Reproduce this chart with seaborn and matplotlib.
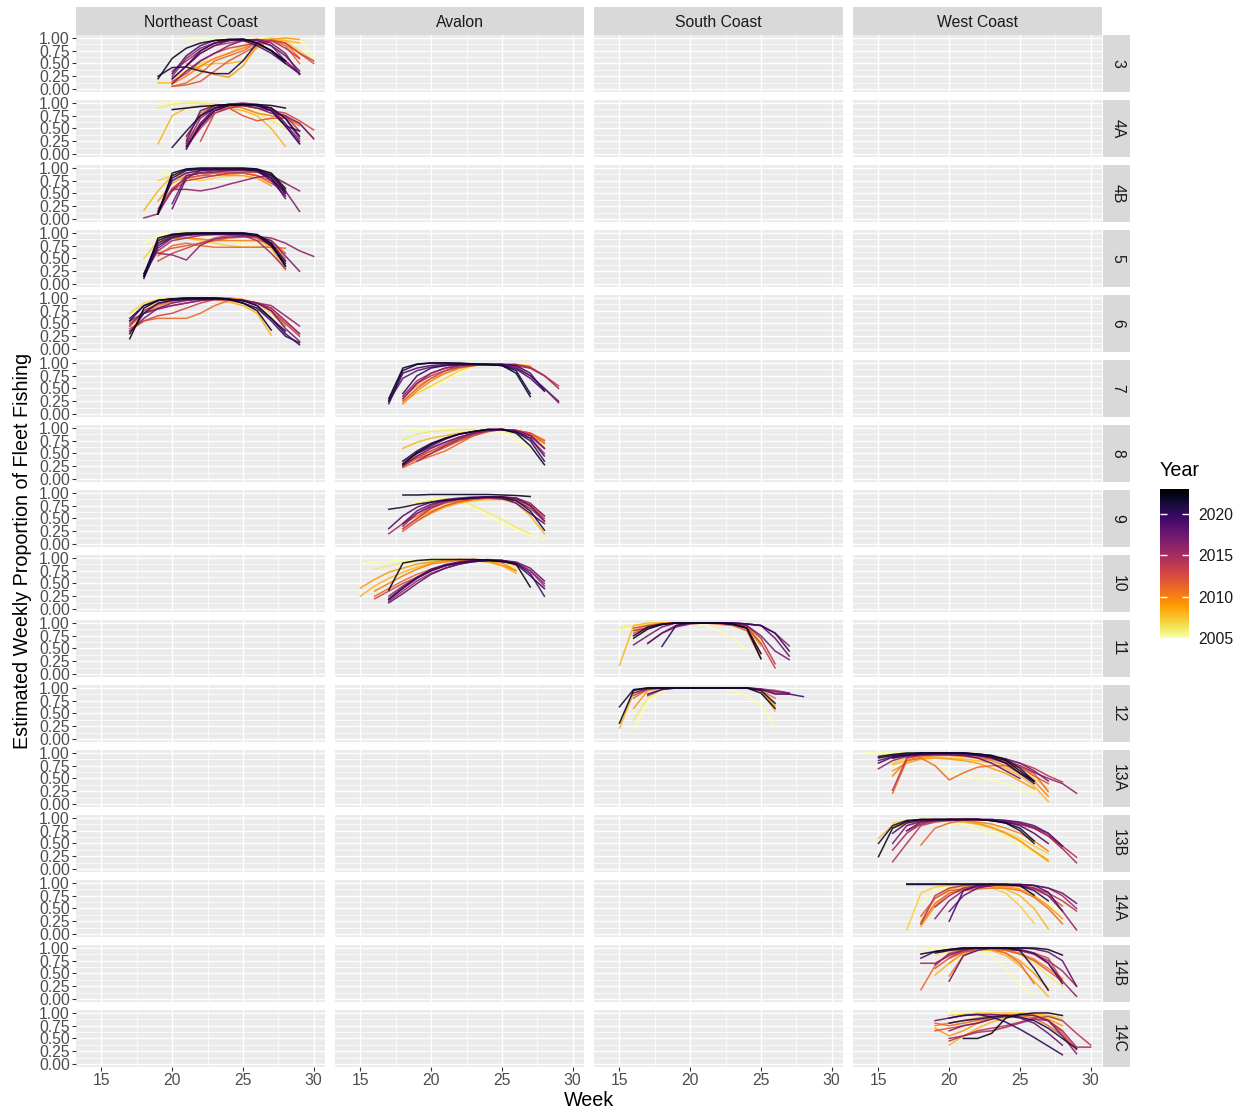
import matplotlib
matplotlib.use("Agg")
import matplotlib.pyplot as plt
import numpy as np
import pandas as pd
import seaborn as sns
from matplotlib.colors import Normalize
from matplotlib.cm import ScalarMappable

# ---- data: weekly proportion of fleet fishing, by area and year ----
# each entry: year -> (first week, proportions for consecutive weeks)
regions = ["Northeast Coast", "Avalon", "South Coast", "West Coast"]
areas = ["3", "4A", "4B", "5", "6", "7", "8", "9", "10", "11", "12",
         "13A", "13B", "14A", "14B", "14C"]
area_region = {"3": 0, "4A": 0, "4B": 0, "5": 0, "6": 0,
               "7": 1, "8": 1, "9": 1, "10": 1,
               "11": 2, "12": 2,
               "13A": 3, "13B": 3, "14A": 3, "14B": 3, "14C": 3}

area_3 = {
    2005: (21, [1, 1, 1, 1, 1, 1, 1, 1, .97, .63]),
    2007: (20, [.2, .35, .5, .6, .7, .85, .95, 1, .95, .75, .55]),
    2008: (19, [.12, .12, .35, .45, .5, .5, .55, .8, .95, .95, .9]),
    2009: (21, [.5, .38, .28, .23, .45, .85, .97, 1, .97]),
    2010: (20, [.1, .25, .45, .6, .7, .8, .9, .97, .9, .6]),
    2011: (20, [.05, .12, .3, .55, .65, .75, .9, .95, .85, .5]),
    2012: (20, [.05, .08, .15, .35, .55, .7, .85, .95, .9, .7, .5]),
    2013: (20, [.15, .3, .55, .7, .8, .85, .9, .95, .9, .7, .55]),
    2014: (20, [.2, .45, .7, .85, .9, .95, .97, .95, .8, .6]),
    2015: (20, [.35, .55, .75, .9, .95, .97, .95, .85, .55, .3]),
    2016: (20, [.25, .6, .8, .9, .95, .97, .9, .75, .55, .3]),
    2017: (20, [.1, .35, .55, .7, .85, .95, .97, .9, .7, .28]),
    2018: (21, [.45, .7, .85, .95, .97, .95, .85, .65, .35]),
    2019: (20, [.3, .65, .85, .95, .97, .95, .85, .7, .5, .3]),
    2020: (20, [.2, .45, .75, .9, .97, .98, .9, .75, .55]),
    2021: (19, [.25, .42, .43, .35, .3, .3, .55, .9, .75, .5]),
    2022: (19, [.2, .6, .8, .9, .95, .97, .97, .9, .75, .55]),
}
area_4A = {
    2005: (19, [.98, 1, 1, 1, .98, .95, .9, .85, .75, .55]),
    2006: (19, [.9, .97, 1, 1, .98, .95, .9, .8, .65, .5]),
    2008: (19, [.2, .75, .9, .95, .95, .9, .85, .75, .5, .15]),
    2010: (21, [.3, .8, .95, .95, .9, .8, .75, .7, .55]),
    2012: (21, [.2, .6, .85, .9, .75, .65, .7, .7, .6, .3]),
    2013: (22, [.25, .8, .9, .95, .9, .85, .8, .65, .47]),
    2014: (21, [.15, .5, .8, .9, .95, .9, .85, .75, .45]),
    2015: (21, [.1, .55, .85, .95, .97, .95, .85, .55, .2]),
    2016: (21, [.2, .7, .9, .97, 1, .97, .9, .7, .3]),
    2017: (21, [.35, .75, .95, .97, .95, .9, .8, .75, .6, .3]),
    2018: (21, [.25, .85, .95, .97, .97, .95, .9, .6, .25]),
    2019: (21, [.1, .6, .9, .97, .97, .95, .85, .55, .2]),
    2020: (21, [.15, .55, .85, .95, .97, .95, .85, .55, .45]),
    2021: (20, [.13, .45, .75, .9, .95, .97, .95, .9, .7, .35]),
    2022: (20, [.87, .9, .93, .95, .97, .97, .97, .95, .9]),
}
area_4B = {
    2005: (19, [.93, .9, .85, .9, .95, .97, .97, .95, .85, .7]),
    2007: (19, [.75, .85, .8, .75, .8, .85, .9, .92, .85]),
    2008: (18, [.17, .55, .85, .9, .92, .95, .95, .9, .85, .75, .6]),
    2009: (19, [.35, .7, .85, .9, .9, .85, .85, .8, .65]),
    2011: (20, [.6, .8, .85, .85, .88, .9, .85, .75, .55]),
    2012: (19, [.2, .6, .8, .85, .9, .92, .9, .85, .7, .55]),
    2014: (20, [.55, .75, .8, .85, .9, .92, .92, .85, .7]),
    2015: (19, [.15, .55, .85, .9, .95, .95, .95, .92, .8, .5]),
    2016: (18, [.02, .1, .58, .58, .55, .6, .68, .75, .82, .85, .7, .55]),
    2017: (20, [.3, .85, .9, .92, .95, .97, .95, .88, .55, .15]),
    2018: (20, [.2, .8, .95, .97, .97, .97, .95, .8, .4]),
    2019: (19, [.15, .75, .9, .95, .97, .97, .97, .95, .75, .45]),
    2020: (19, [.1, .8, .95, .97, .97, .97, .97, .95, .8, .5]),
    2021: (19, [.1, .85, .97, .98, .98, .98, .98, .97, .85, .55]),
    2022: (19, [.1, .9, .98, 1, 1, 1, 1, .98, .9, .6]),
}
area_5 = {
    2005: (18, [.8, .95, .97, .97, .95, .9, .85, .8, .78, .7]),
    2007: (18, [.5, .85, .9, .9, .85, .8, .75, .72, .72, .75]),
    2008: (18, [.11, .9, .98, 1, 1, 1, 1, .98, .9, .7, .27]),
    2010: (19, [.8, .9, .9, .88, .85, .85, .85, .85, .8, .5]),
    2011: (19, [.55, .75, .8, .75, .72, .72, .72, .72, .72, .7]),
    2012: (19, [.6, .7, .75, .8, .85, .9, .92, .92, .85, .6]),
    2013: (19, [.45, .6, .7, .8, .9, .95, .95, .9, .75, .45]),
    2015: (18, [.2, .65, .85, .9, .95, .97, .97, .95, .85, .6, .3]),
    2016: (19, [.6, .57, .47, .76, .88, .92, .93, .93, .9, .8, .65, .54]),
    2017: (18, [.15, .7, .9, .95, .97, .97, .97, .97, .95, .85, .55, .25]),
    2019: (18, [.15, .8, .95, .97, .98, .98, .98, .97, .95, .8, .45]),
    2020: (18, [.11, .75, .92, .97, .98, .98, .98, .98, .95, .75, .35]),
    2021: (18, [.2, .85, .97, .98, 1, 1, 1, 1, .95, .75, .4]),
    2022: (18, [.15, .9, .97, 1, 1, 1, 1, 1, .97, .8, .35]),
}
area_6 = {
    2005: (17, [.65, .8, .9, .97, 1, 1, 1, .98, .95, .9, .75]),
    2007: (17, [.7, .9, .97, 1, 1, 1, 1, 1, .97, .9, .7, .45]),
    2008: (17, [.3, .75, .9, .97, 1, 1, .97, .92, .85, .7, .27]),
    2010: (17, [.45, .7, .85, .92, .97, 1, 1, 1, .97, .9, .75, .45]),
    2011: (17, [.35, .55, .6, .6, .6, .7, .85, .95, .9, .8, .6, .3]),
    2013: (17, [.4, .55, .65, .7, .8, .9, .97, .97, .95, .9, .8, .55, .3]),
    2014: (17, [.5, .7, .8, .85, .9, .95, .97, .97, .95, .9, .75, .5, .25]),
    2015: (17, [.45, .75, .88, .95, .97, .98, .98, .97, .95, .9, .8, .55, .3]),
    2016: (17, [.55, .7, .78, .85, .9, .95, .97, .97, .95, .9, .85, .65, .45]),
    2017: (17, [.35, .6, .8, .9, .95, .97, .98, .97, .95, .9, .75, .4, .15]),
    2019: (17, [.6, .85, .95, .98, 1, 1, 1, .98, .95, .85, .6, .3, .08]),
    2020: (17, [.3, .7, .9, .95, .97, .98, .98, .97, .9, .8, .55, .25, .12]),
    2021: (17, [.55, .85, .95, .98, .98, .98, .98, .97, .95, .85, .6, .35]),
    2022: (17, [.2, .8, .95, .98, 1, 1, 1, .98, .9, .75, .37]),
}
area_7 = {
    2005: (18, [.3, .45, .52, .65, .8, .95, .97, .97, .97, .95]),
    2007: (18, [.25, .4, .55, .7, .85, .95, .97, .97, .97, .95]),
    2009: (18, [.35, .55, .7, .8, .9, .95, .97, .97, .97, .93]),
    2010: (18, [.2, .45, .65, .8, .9, .95, .97, .97, .97, .9]),
    2012: (18, [.25, .5, .7, .85, .95, .97, .97, .97, .95, .9, .75]),
    2014: (18, [.3, .6, .75, .85, .92, .95, .97, .97, .97, .92, .75, .55]),
    2015: (18, [.35, .65, .8, .9, .95, .97, .97, .97, .95, .9, .75, .5]),
    2016: (18, [.3, .6, .8, .9, .95, .97, .97, .97, .92, .75, .5, .22]),
    2018: (17, [.25, .7, .85, .92, .95, .97, .97, .97, .97, .9, .75, .5, .25]),
    2019: (17, [.2, .8, .9, .95, .97, .97, .97, .97, .95, .88, .7, .45]),
    2020: (18, [.4, .75, .9, .95, .97, .97, .97, .97, .95, .8, .45]),
    2021: (17, [.25, .85, .97, 1, 1, .98, .98, .97, .95, .85, .4]),
    2022: (17, [.3, .9, .98, 1, 1, 1, .98, .97, .95, .8, .34]),
}
area_8 = {
    2005: (18, [.93, .95, .97, .97, .97, .97, .95, .9, .75, .6, .65]),
    2006: (18, [.77, .88, .93, .95, .97, .97, .97, .95, .88, .8, .75]),
    2008: (18, [.6, .72, .8, .85, .9, .93, .95, .97, .95, .9, .77]),
    2009: (18, [.3, .45, .55, .65, .75, .85, .93, .97, .95, .85, .7]),
    2011: (18, [.22, .35, .45, .55, .7, .85, .93, .97, .95, .9, .7]),
    2012: (18, [.25, .4, .5, .62, .75, .85, .93, .97, .95, .9, .75]),
    2013: (18, [.3, .42, .55, .68, .8, .9, .95, .97, .95, .88, .6]),
    2015: (18, [.35, .5, .62, .72, .82, .9, .95, .97, .93, .8, .5]),
    2016: (19, [.35, .5, .65, .78, .88, .95, .97, .95, .85, .6]),
    2017: (18, [.25, .45, .6, .72, .82, .9, .95, .97, .95, .85, .6]),
    2019: (18, [.3, .5, .65, .78, .88, .93, .97, .97, .93, .8, .45]),
    2020: (18, [.35, .55, .7, .8, .88, .93, .97, .97, .92, .75, .35]),
    2022: (18, [.28, .52, .68, .8, .88, .93, .97, .97, .9, .65, .28]),
}
area_9 = {
    2005: (18, [.72, .82, .88, .9, .85, .72, .55, .4, .28, .17, .08]),
    2006: (19, [.8, .85, .88, .85, .75, .62, .48, .33, .2]),
    2008: (19, [.45, .6, .72, .8, .85, .87, .87, .8, .55, .2]),
    2009: (18, [.3, .5, .65, .75, .82, .87, .9, .9, .85, .7]),
    2011: (18, [.4, .55, .7, .8, .85, .88, .9, .9, .88, .75]),
    2012: (18, [.25, .45, .62, .75, .83, .88, .9, .92, .9, .78, .55]),
    2014: (18, [.3, .5, .7, .82, .88, .9, .92, .92, .88, .75, .5]),
    2015: (17, [.2, .4, .6, .72, .82, .88, .9, .9, .88, .85, .7, .45]),
    2016: (18, [.35, .6, .75, .85, .88, .9, .92, .92, .9, .8, .55]),
    2018: (18, [.4, .65, .78, .85, .88, .9, .92, .92, .9, .75, .45]),
    2019: (17, [.3, .55, .72, .82, .87, .9, .92, .92, .9, .8, .6, .4]),
    2021: (17, [.68, .72, .78, .82, .85, .88, .9, .92, .92, .85, .65, .27]),
    2022: (18, [.96, .96, .97, .97, .97, .97, .97, .96, .95, .93]),
}
area_10 = {
    2005: (15, [.9, .92, .93, .95, .95, .97, .97, .97, .95, .93, .9, .85]),
    2006: (16, [.78, .85, .9, .93, .95, .97, .97, .95, .93, .9, .8]),
    2008: (15, [.25, .45, .6, .72, .82, .9, .95, .97, .97, .95, .85, .7]),
    2009: (15, [.41, .58, .72, .8, .88, .92, .95, .97, .95, .92, .85, .75]),
    2010: (16, [.35, .5, .65, .78, .88, .92, .95, .97, .95, .9, .75]),
    2011: (16, [.25, .4, .55, .68, .78, .85, .9, .93, .95, .95, .85]),
    2013: (16, [.2, .35, .5, .62, .75, .85, .92, .95, .97, .95, .88]),
    2015: (17, [.15, .35, .55, .7, .8, .88, .93, .95, .95, .9, .75, .45]),
    2016: (17, [.25, .45, .62, .75, .85, .9, .93, .95, .95, .9, .75, .5]),
    2018: (17, [.12, .3, .5, .68, .8, .88, .93, .95, .95, .92, .8, .55]),
    2019: (17, [.2, .42, .62, .78, .87, .92, .95, .96, .95, .9, .7, .25]),
    2020: (17, [.18, .4, .6, .75, .85, .9, .93, .95, .93, .88, .65, .4]),
    2022: (17, [.37, .9, .95, .97, .97, .97, .97, .96, .93, .88, .43]),
}
area_11 = {
    2005: (15, [.85, .95, .97, 1, 1, 1, .95, .85, .7, .47]),
    2006: (15, [.9, .95, .97, 1, 1, 1, 1, .98, .95, .85, .65]),
    2008: (15, [.17, .95, 1, 1, 1, 1, 1, 1, .98, .95, .6]),
    2009: (16, [.85, .95, 1, 1, 1, 1, 1, .97, .9, .55]),
    2011: (16, [.75, .9, .97, 1, 1, 1, 1, .97, .9, .4]),
    2012: (16, [.8, .92, .98, 1, 1, 1, .98, .95, .85, .3]),
    2013: (16, [.9, .95, .98, 1, 1, 1, 1, .97, .92, .6, .12]),
    2014: (16, [.85, .9, .97, 1, 1, 1, 1, .98, .95, .7, .2]),
    2016: (17, [.6, .8, .92, .98, 1, 1, 1, .98, .95, .8, .55]),
    2017: (16, [.57, .75, .92, 1, 1, 1, 1, .98, .95, .75, .45, .28]),
    2018: (17, [.6, .8, .95, 1, 1, 1, 1, .98, .95, .7, .35]),
    2020: (18, [.54, .95, 1, 1, 1, 1, .98, .95, .8, .45]),
    2021: (16, [.75, .92, .98, 1, 1, 1, 1, .97, .9, .4]),
    2022: (16, [.7, .88, .97, 1, 1, 1, 1, .98, .9, .3]),
}
area_12 = {
    2005: (16, [.18, .7, .95, 1, 1, 1, 1, .95, .85, .65, .25]),
    2006: (16, [.37, .8, .97, 1, 1, 1, 1, 1, .98, .95, .7]),
    2008: (15, [.21, .9, 1, 1, 1, 1, 1, 1, 1, 1, .95, .55]),
    2009: (16, [.6, .95, 1, 1, 1, 1, 1, 1, 1, .95, .65]),
    2011: (16, [.8, .97, 1, 1, 1, 1, 1, 1, 1, .95, .8]),
    2013: (16, [.85, .98, 1, 1, 1, 1, 1, 1, 1, .98, .9, .88]),
    2015: (17, [.85, .97, 1, 1, 1, 1, 1, 1, .98, .95, .9]),
    2017: (16, [.9, .98, 1, 1, 1, 1, 1, 1, 1, .97, .93, .9]),
    2019: (17, [.88, .97, 1, 1, 1, 1, 1, 1, .97, .88, .88, .83]),
    2021: (15, [.63, .97, 1, 1, 1, 1, 1, 1, 1, 1, .95, .7]),
    2022: (15, [.31, .95, 1, 1, 1, 1, 1, 1, 1, 1, .9, .6]),
}
area_13A = {
    2005: (14, [1, 1, 1, 1, .93, .75, .63, .55, .5, .47, .4, .27, .21]),
    2006: (15, [.95, .97, .98, 1, 1, 1, 1, .98, .95, .9, .75, .55]),
    2007: (16, [.8, .9, .97, 1, 1, .98, .95, .9, .8, .65, .5, .3]),
    2008: (16, [.77, .85, .9, .92, .9, .88, .85, .8, .7, .55, .35, .05]),
    2009: (16, [.65, .8, .88, .9, .88, .85, .8, .7, .6, .45, .3]),
    2010: (16, [.55, .85, .92, .95, .95, .93, .9, .85, .75, .6, .45, .15]),
    2011: (16, [.21, .85, .9, .75, .47, .61, .72, .75, .75, .72, .6, .24]),
    2012: (17, [.9, .95, .97, .97, .95, .92, .88, .82, .72, .55, .4]),
    2014: (16, [.27, .9, .95, .97, .97, .97, .95, .92, .88, .8, .7, .55, .43]),
    2016: (15, [.69, .85, .93, .97, .97, .97, .97, .95, .92, .85, .75, .62, .5, .4, .21]),
    2017: (16, [.9, .95, .97, .97, .97, .97, .95, .92, .88, .8, .65, .45]),
    2018: (15, [.85, .93, .97, .97, .97, .97, .95, .9, .8, .65, .5]),
    2019: (15, [.8, .92, .97, 1, 1, 1, .98, .95, .9, .8, .6, .45]),
    2020: (16, [.9, .95, .97, 1, 1, 1, .98, .95, .88, .7, .45]),
    2021: (15, [.9, .95, .97, 1, 1, 1, 1, .97, .92, .8, .6, .4]),
    2022: (15, [.93, .97, 1, 1, 1, 1, 1, .98, .95, .85, .65, .44]),
}
area_13B = {
    2005: (17, [.95, .97, .95, .9, .85, .78, .7, .6, .45, .31, .2]),
    2007: (16, [.9, .95, .97, .97, .95, .92, .88, .82, .72, .6, .45, .3]),
    2008: (15, [.6, .85, .95, .97, .97, .95, .92, .88, .8, .7, .55, .35, .18]),
    2009: (16, [.8, .9, .95, .97, .97, .95, .9, .82, .7, .55, .35, .15]),
    2010: (17, [.85, .92, .95, .97, .95, .92, .88, .8, .7, .55, .35]),
    2011: (18, [.47, .8, .9, .95, .97, .95, .92, .88, .8, .65, .4]),
    2013: (17, [.75, .88, .95, .97, .97, .97, .95, .92, .88, .8, .65, .45]),
    2014: (16, [.14, .5, .85, .92, .95, .97, .97, .95, .92, .88, .8, .65, .45, .23]),
    2015: (16, [.37, .7, .88, .95, .97, .97, .97, .95, .92, .88, .8, .65, .4, .12]),
    2017: (16, [.5, .85, .93, .95, .95, .97, .97, .97, .95, .9, .82, .7, .45]),
    2018: (17, [.75, .92, .95, .97, .97, .97, .97, .95, .92, .85, .7, .45]),
    2019: (16, [.7, .9, .95, .97, .97, .97, .97, .95, .92, .85, .7, .5]),
    2021: (15, [.5, .85, .95, .97, .97, .97, .97, .97, .95, .9, .75, .5]),
    2022: (15, [.24, .8, .93, .97, .97, .97, .97, .97, .95, .9, .8, .55]),
}
area_14A = {
    2005: (18, [.6, .85, .92, .95, .95, .93, .9, .85, .75, .6, .45]),
    2007: (17, [.08, .8, .92, .95, .97, .95, .9, .8, .55, .21]),
    2008: (18, [.25, .7, .88, .93, .95, .93, .88, .75, .5, .1]),
    2009: (18, [.15, .55, .8, .9, .93, .95, .93, .88, .75, .55, .3]),
    2011: (18, [.2, .6, .8, .85, .88, .9, .9, .85, .72, .5, .2]),
    2012: (18, [.35, .7, .85, .88, .92, .95, .95, .93, .88, .75, .55]),
    2014: (18, [.2, .75, .9, .95, .97, .97, .97, .95, .9, .8, .65, .45]),
    2015: (19, [.53, .75, .9, .95, .97, .97, .97, .95, .9, .75, .5]),
    2016: (19, [.3, .65, .85, .93, .95, .97, .95, .9, .75, .45, .08]),
    2018: (20, [.44, .75, .9, .95, .97, .97, .95, .9, .8, .6]),
    2019: (20, [.25, .85, .95, .97, .97, .97, .95, .82, .45]),
    2020: (17, [.97, .97, .97, .97, .97, .97, .97, .97, .95, .85, .65]),
    2022: (17, [.98, .98, .98, .98, .98, .98, .98, .97, .95, .76]),
}
area_14B = {
    2005: (18, [.97, 1, 1, .98, .95, .85, .6, .25, .08]),
    2006: (19, [.85, .95, .98, 1, .98, .95, .88, .7, .45, .25]),
    2008: (19, [.47, .7, .9, .97, .95, .85, .65, .35, .05]),
    2009: (20, [.7, .9, .98, .98, .9, .75, .5, .2]),
    2010: (20, [.45, .85, .97, 1, .97, .9, .78, .6, .4]),
    2011: (18, [.18, .65, .9, .97, 1, .97, .9, .7, .3]),
    2012: (19, [.6, .8, .95, 1, .98, .95, .88, .75, .55, .35]),
    2013: (20, [.8, .92, .97, 1, .98, .95, .9, .8, .35]),
    2015: (18, [.7, .7, .85, .95, 1, 1, .98, .95, .88, .75, .55, .25]),
    2016: (19, [.67, .88, .95, 1, 1, .98, .95, .88, .7, .35, .05]),
    2018: (20, [.35, .85, .95, 1, 1, 1, .98, .92, .75, .25]),
    2019: (18, [.8, .93, .97, 1, 1, 1, 1, .97, .9, .7, .3]),
    2021: (19, [.9, .95, .98, 1, 1, 1, .95, .6, .17]),
    2022: (18, [.88, .93, .97, 1, 1, 1, 1, 1, 1, .97, .86]),
}
area_14C = {
    2005: (20, [1, 1, 1, 1, .98, .97, .95, .9, .85]),
    2007: (20, [.95, .97, 1, 1, 1, 1, .98, .95, .9]),
    2008: (20, [.37, .55, .7, .82, .9, .95, .97, .95, .85]),
    2009: (19, [.7, .55, .65, .8, .9, .95, .97, .95, .88, .75]),
    2010: (19, [.75, .8, .85, .9, .95, .97, .97, .95, .85, .65]),
    2011: (19, [.8, .75, .8, .85, .9, .95, .95, .9, .75, .55, .3]),
    2012: (19, [.65, .7, .75, .8, .88, .95, .97, .95, .85, .6, .28]),
    2014: (20, [.45, .55, .65, .7, .75, .82, .9, .93, .85, .6, .37]),
    2015: (20, [.5, .55, .62, .65, .72, .8, .88, .85, .65, .33, .33]),
    2017: (20, [.65, .75, .8, .88, .93, .97, .95, .85, .55, .2]),
    2018: (19, [.85, .9, .95, .97, .97, .95, .9, .8, .6, .37]),
    2020: (20, [.9, .95, .97, .92, .82, .68, .52, .35, .18]),
    2021: (20, [.8, .85, .88, .92, .95, .92, .85, .7, .5, .3]),
    2022: (21, [.5, .5, .6, .9, .97, 1, 1, .95]),
}

area_series = {"3": area_3, "4A": area_4A, "4B": area_4B, "5": area_5,
               "6": area_6, "7": area_7, "8": area_8, "9": area_9,
               "10": area_10, "11": area_11, "12": area_12,
               "13A": area_13A, "13B": area_13B, "14A": area_14A,
               "14B": area_14B, "14C": area_14C}

year_range = (2005, 2023)
year_ticks = [2005, 2010, 2015, 2020]
week_ticks = [15, 20, 25, 30]
prop_ticks = [0, 0.25, 0.5, 0.75, 1.0]

# ---- long table ----
records = []
for area, series in area_series.items():
    for year, (start, vals) in series.items():
        for i, v in enumerate(vals):
            records.append((area, year, start + i, v))
df = pd.DataFrame(records, columns=["area", "year", "week", "prop"])

# ---- figure layout ----
plt.rcParams["font.family"] = ["Liberation Sans", "DejaVu Sans"]
W, H = 1244, 1113
fig = plt.figure(figsize=(W / 100, H / 100), dpi=100)


def box(l, t, w, h):
    return [l / W, 1 - (t + h) / H, w / W, h / H]


col_left = [76, 335, 594, 853]
panel_w = 249
row_top0, row_step, panel_h = 35.4, 65, 56.1
strip_bg = "#D9D9D9"
panel_bg = "#EBEBEB"
tick_fs = 11.3
strip_fs = 11.3
title_fs = 14.2
cmap = "inferno_r"

for r, area in enumerate(areas):
    top = row_top0 + r * row_step
    for c in range(4):
        ax = fig.add_axes(box(col_left[c], top, panel_w, panel_h))
        ax.set_facecolor(panel_bg)
        ax.set_xlim(13.2, 30.8)
        ax.set_ylim(-0.05, 1.05)
        ax.set_xticks(week_ticks)
        ax.set_xticks([17.5, 22.5, 27.5], minor=True)
        ax.set_yticks(prop_ticks)
        ax.set_yticks([0.125, 0.375, 0.625, 0.875], minor=True)
        ax.grid(which="major", color="white", linewidth=1.0)
        ax.grid(which="minor", color="white", linewidth=0.5)
        ax.set_axisbelow(True)
        for s in ax.spines.values():
            s.set_visible(False)
        ax.tick_params(which="minor", length=0)
        ax.tick_params(which="major", length=3, width=0.8, color="#333333",
                       labelsize=tick_fs, labelcolor="#4D4D4D", pad=1.5)
        if c == 0:
            ax.set_yticklabels([f"{v:.2f}" for v in prop_ticks])
        else:
            ax.tick_params(axis="y", length=0, labelleft=False)
        if r == len(areas) - 1:
            ax.set_xticklabels([str(v) for v in week_ticks])
        else:
            ax.tick_params(axis="x", length=0, labelbottom=False)

        if c == area_region[area]:
            sub = df[df["area"] == area]
            sns.lineplot(data=sub, x="week", y="prop", hue="year",
                         units="year", estimator=None, palette=cmap,
                         hue_norm=year_range, linewidth=1.1, alpha=0.9,
                         legend=False, ax=ax)
        ax.set_xlabel("")
        ax.set_ylabel("")

    # area strip on the right
    sax = fig.add_axes(box(1103, top, 27, panel_h))
    sax.set_facecolor(strip_bg)
    sax.set_xticks([]); sax.set_yticks([])
    for s in sax.spines.values():
        s.set_visible(False)
    sax.text(0.55, 0.5, area, rotation=-90, ha="center", va="center",
             fontsize=strip_fs, color="#1A1A1A", transform=sax.transAxes)

# region strips on top
for c, reg in enumerate(regions):
    tax = fig.add_axes(box(col_left[c], 6.5, panel_w, 28))
    tax.set_facecolor(strip_bg)
    tax.set_xticks([]); tax.set_yticks([])
    for s in tax.spines.values():
        s.set_visible(False)
    tax.text(0.5, 0.42, reg, ha="center", va="center", fontsize=strip_fs,
             color="#1A1A1A", transform=tax.transAxes)

# axis titles
fig.text(589 / W, 1 - 1101 / H, "Week", ha="center", va="center",
         fontsize=title_fs, color="black")
fig.text(23 / W, 1 - 551 / H, "Estimated Weekly Proportion of Fleet Fishing",
         rotation=90, ha="center", va="center", fontsize=title_fs,
         color="black")

# colour bar legend
cax = fig.add_axes(box(1160, 489, 29, 149))
sm = ScalarMappable(norm=Normalize(*year_range), cmap=cmap)
cb = fig.colorbar(sm, cax=cax, ticks=year_ticks)
cb.outline.set_visible(False)
cax.tick_params(direction="in", length=5, width=1, color="white",
                left=True, right=True, labelsize=tick_fs,
                labelcolor="#1A1A1A", pad=7)
cax.set_yticklabels([str(y) for y in year_ticks])
fig.text(1160 / W, 1 - 471 / H, "Year", ha="left", va="center",
         fontsize=title_fs, color="black")

fig.savefig("out.png", dpi=100)
